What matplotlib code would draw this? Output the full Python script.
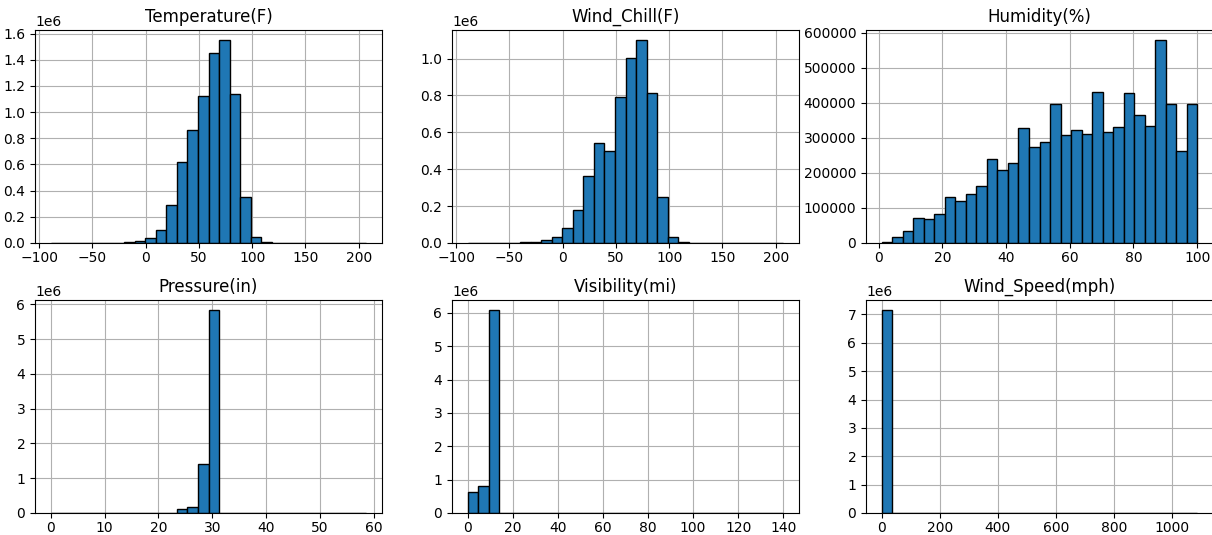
import numpy as np
import matplotlib
matplotlib.use("Agg")
import matplotlib.pyplot as plt
from matplotlib.ticker import MaxNLocator

# value ranges (min, max) of each column, bins=30 like df.hist
columns = ["Temperature(F)", "Wind_Chill(F)", "Humidity(%)",
           "Pressure(in)", "Visibility(mi)", "Wind_Speed(mph)"]
ranges = [(-89, 207), (-89, 207), (1, 100), (0, 58.6), (0, 140), (0, 1087)]

# counts per bin
temperature = [200, 100, 100, 100, 300, 600, 1500, 5000, 15000, 35000,
               100000, 290000, 620000, 860000, 1120000, 1450000, 1550000, 1140000, 350000, 45000,
               5000, 500, 200, 100, 100, 100, 100, 100, 100, 100]
wind_chill = [200, 100, 100, 300, 1000, 3000, 8000, 18000, 35000, 80000,
              180000, 365000, 540000, 500000, 790000, 1005000, 1100000, 815000, 250000, 30000,
              3000, 300, 100, 100, 100, 100, 100, 100, 100, 100]
humidity = [4000, 18000, 33000, 71000, 69000, 82000, 131000, 119000, 141000, 162000,
            240000, 207000, 229000, 327000, 273000, 287000, 396000, 309000, 323000, 312000,
            431000, 317000, 330000, 428000, 366000, 334000, 579000, 396000, 264000, 398000]
pressure = [200, 0, 0, 0, 0, 0, 100, 100, 200, 500,
            2000, 12000, 110000, 180000, 1420000, 5830000, 3000, 100, 0, 0,
            0, 0, 0, 0, 0, 0, 0, 0, 0, 100]
visibility = [620000, 820000, 6080000, 8000, 1000, 500, 200, 100, 100, 100,
              100, 100, 100, 100, 100, 100, 100, 100, 100, 100,
              100, 100, 100, 100, 100, 100, 100, 100, 100, 100]
wind_speed = [7150000, 3000, 200, 100, 100, 100, 100, 100, 100, 100,
              100, 100, 100, 100, 100, 100, 100, 100, 100, 100,
              100, 100, 100, 100, 100, 100, 100, 100, 100, 100]
counts = [temperature, wind_chill, humidity, pressure, visibility, wind_speed]

W, H = 1212, 535
fig = plt.figure(figsize=(W / 100, H / 100), dpi=100)

lefts = [35, 452, 866]
tops = [30, 300]
aw, ah = 347, 213

for i, (name, (lo, hi), values) in enumerate(zip(columns, ranges, counts)):
    row, col = divmod(i, 3)
    ax = fig.add_axes([lefts[col] / W, 1 - (tops[row] + ah) / H, aw / W, ah / H])
    edges = np.linspace(lo, hi, 31)
    ax.hist(edges[:-1], bins=edges, weights=values, color="#1f77b4", edgecolor="black")
    ax.yaxis.set_major_locator(MaxNLocator(9, steps=[1, 2, 2.5, 5, 10]))
    ax.tick_params(axis="x", pad=2)
    ax.grid(True)
    ax.set_axisbelow(True)
    ax.set_title(name)

fig.savefig("out.png", dpi=100)
